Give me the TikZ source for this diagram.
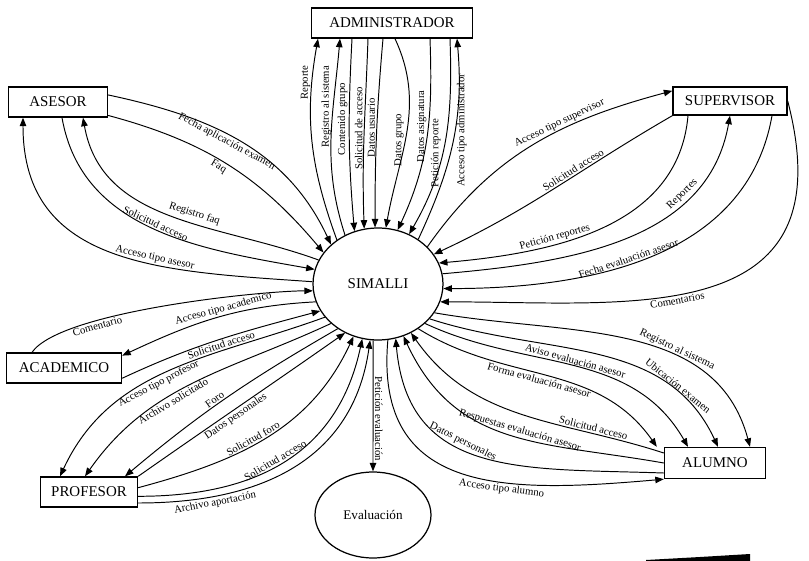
\documentclass[tikz,border=0pt]{standalone}
\usepackage{fontspec}
\setmainfont{Liberation Serif}
\usetikzlibrary{positioning, shapes.geometric, calc, arrows.meta}

\begin{document}
\begin{tikzpicture}[x=0.02cm, y=0.02cm,
entity/.style={rectangle, draw, line width=0.8pt, minimum height=0.6cm, inner sep=2pt, font=\fontsize{8.5}{10}\selectfont},
process/.style={ellipse, draw, line width=0.7pt, inner sep=0pt},
flow/.style={-{Triangle[length=1.7mm,width=1.3mm]}, line width=0.55pt},
lbl/.style={font=\fontsize{6.1}{7}\selectfont, inner sep=0.8pt},
]
\useasboundingbox (0,0) rectangle (809,-561);

%Nodes
\node [process, minimum width=2.6cm, minimum height=2.24cm, font=\fontsize{8.5}{10}\selectfont] (simalli) at (378,-284) {SIMALLI};
\node [process, minimum width=2.32cm, minimum height=1.72cm, font=\fontsize{7.5}{9}\selectfont] (evaluacion) at (373,-515) {Evaluación};
\node [entity, minimum width=3.22cm] (admin) at (392,-23) {ADMINISTRADOR};
\node [entity, minimum width=1.98cm] (asesor) at (58,-102) {ASESOR};
\node [entity, minimum width=2.28cm, minimum height=0.56cm] (supervisor) at (730,-101) {SUPERVISOR};
\node [entity, minimum width=2.3cm] (academico) at (64,-368) {ACADEMICO};
\node [entity, minimum width=1.94cm] (profesor) at (89,-492) {PROFESOR};
\node [entity, minimum width=2.02cm, minimum height=0.62cm] (alumno) at (715,-463) {ALUMNO};

% Paths
% administrador
\draw [flow] (simalli.133) to [out=110, in=-100] node[lbl, pos=0.8, rotate=90, above] {Reporte} ($(admin.south)+(-74,0)$);
\draw [flow] (simalli.124) to [out=108, in=-95] node[lbl, pos=0.67, rotate=90, above] {Registro al sistema} ($(admin.south)+(-52,0)$);
\draw [flow] ($(admin.south)+(-40,0)$) to [out=-93, in=95] node[lbl, pos=0.41, rotate=90, above] {Contenido grupo} (simalli.114);
\draw [flow] ($(admin.south)+(-24,0)$) to [out=-92, in=92] node[lbl, pos=0.47, rotate=90, above] {Solicitud de acceso} (simalli.104);
\draw [flow] ($(admin.south)+(-9,0)$) to [out=-95, in=90] node[lbl, pos=0.47, rotate=90, above] {Datos usuario} (simalli.93);
\draw [flow] ($(admin.south)+(3,0)$) to [out=-65, in=80] node[lbl, pos=0.55, rotate=90, above] {Datos grupo} (simalli.82);
\draw [flow] ($(admin.south)+(38,0)$) to [out=-88, in=65] node[lbl, pos=0.44, rotate=90, above] {Datos asignatura} (simalli.70);
\draw [flow] ($(admin.south)+(58,0)$) to [out=-88, in=60] node[lbl, pos=0.57, rotate=90, above] {Petición reporte} (simalli.58);
\draw [flow] (simalli.48) to [out=65, in=-85] node[lbl, pos=0.56, rotate=90, below] {Acceso tipo administrador} ($(admin.south)+(65,0)$);

% asesor
\draw [flow] (asesor.8) to [out=-12, in=115] node[lbl, pos=0.45, sloped, below] {Fecha aplicación examen} (simalli.140);
\draw [flow] (asesor.-15) to [out=-15, in=130] node[lbl, pos=0.47, sloped, below] {Faq} (simalli.150);
\draw [flow] (simalli.158) to [out=160, in=-80] node[lbl, pos=0.42, sloped, above=1.5pt] {Registro faq} ($(asesor.south)+(25,0)$);
\draw [flow] ($(asesor.south)+(4,0)$) to [out=-80, in=170] node[lbl, pos=0.5, sloped, above] {Solicitud acceso} (simalli.167);
\draw [flow] (simalli.178) to [out=176, in=-90, looseness=1.15] node[lbl, pos=0.38, sloped, above] {Acceso tipo asesor} ($(asesor.south)+(-35,0)$);

% supervisor
\draw [flow] (simalli.37) to [out=55, in=195] node[lbl, pos=0.62, sloped, above] {Acceso tipo supervisor} (supervisor.170);
\draw [flow] (supervisor.south west) to [out=-150, in=25] node[lbl, pos=0.4, sloped, above] {Solicitud acceso} (simalli.28);
\draw [flow] ($(supervisor.south)+(-42,0)$) to [out=-95, in=5] node[lbl, pos=0.65, sloped, above] {Petición reportes} (simalli.19);
\draw [flow] (simalli.9) to [out=5, in=-100] node[lbl, pos=0.72, sloped, above] {Reportes} (supervisor.south);
\draw [flow] ($(supervisor.south)+(42,0)$) to [out=-100, in=0] node[lbl, pos=0.56, sloped, above] {Fecha evaluación asesor} (simalli.-4);
\draw [flow] (supervisor.east) .. controls +(60,-230) and +(190,0) .. node[lbl, pos=0.57, sloped, below] {Comentarios} (simalli.-16);

% academico
\draw [flow] ($(academico.north)+(-32,0)$) to [out=55, in=180, looseness=0.45] node[lbl, pos=0.3, sloped, below] {Comentario} (simalli.186);
\draw [flow] (simalli.196) to [out=183, in=25] node[lbl, pos=0.45, sloped, above] {Acceso tipo academico} (academico.12);
\draw [flow] (academico.-10) to [out=25, in=195] node[lbl, pos=0.5, sloped, below] {Solicitud acceso} (simalli.205);

% profesor
\draw [flow] (simalli.212) to [out=200, in=65] node[lbl, pos=0.55, sloped, below] {Acceso tipo profesor} ($(profesor.north)+(-29,0)$);
\draw [flow] (simalli.220) to [out=205, in=55] node[lbl, pos=0.6, sloped, below] {Archivo solicitado} ($(profesor.north)+(-4,0)$);
\draw [flow] (simalli.228) to [out=210, in=40] node[lbl, pos=0.55, sloped, above] {Foro} ($(profesor.north)+(36,0)$);
\draw [flow] (profesor.north east) to [out=35, in=215] node[lbl, pos=0.45, sloped, below] {Datos personales} (simalli.236);
\draw [flow] (profesor.5) to [out=15, in=245] node[lbl, pos=0.45, sloped, above] {Solicitud foro} (simalli.245);
\draw [flow] (profesor.-5) to [out=0, in=258, looseness=1.1] node[lbl, pos=0.47, sloped, above] {Solicitud acceso} (simalli.254);
\draw [flow] ($(profesor.east)+(0,-11)$) to [out=0, in=262, looseness=1.1] node[lbl, pos=0.22, sloped, below] {Archivo aportación} (simalli.262);

% evaluacion
\draw [flow] (simalli.-95) to node[lbl, pos=0.6, rotate=-90, above] {Petición evaluación} (evaluacion.north);

% alumno
\draw [flow] (simalli.-27) to [out=-10, in=105] node[lbl, pos=0.64, sloped, above] {Registro al sistema} ($(alumno.north)+(35,0)$);
\draw [flow] (simalli.-34) to [out=-18, in=115] node[lbl, pos=0.78, sloped, above] {Ubicación examen} ($(alumno.north)+(3,0)$);
\draw [flow] (simalli.-40) to [out=-25, in=120] node[lbl, pos=0.5, sloped, above] {Aviso evaluación asesor} ($(alumno.north)+(-27,0)$);
\draw [flow] (simalli.-48) to [out=-32, in=125] node[lbl, pos=0.47, sloped, below] {Forma evaluación asesor} ($(alumno.north west)+(-7,0)$);
\draw [flow] ($(alumno.west)+(0,10)$) to [out=162, in=-55] node[lbl, pos=0.24, sloped, above] {Solicitud acceso} (simalli.-56);
\draw [flow] (alumno.west) to [out=170, in=-65, looseness=1.1] node[lbl, pos=0.46, sloped, above] {Respuestas evaluación asesor} (simalli.-64);
\draw [flow] ($(alumno.west)+(0,-10)$) to [out=178, in=-85, looseness=1.2] node[lbl, pos=0.58, sloped, above] {Datos personales} (simalli.-72);
\draw [flow] (simalli.-80) to [out=-95, in=185, looseness=1.3] node[lbl, pos=0.62, sloped, below] {Acceso tipo alumno} (alumno.south west);

% barra
\fill (646,-560) -- (700,-557) -- (750,-554) -- (750,-561) -- (646,-561) -- cycle;
\end{tikzpicture}
\end{document}
